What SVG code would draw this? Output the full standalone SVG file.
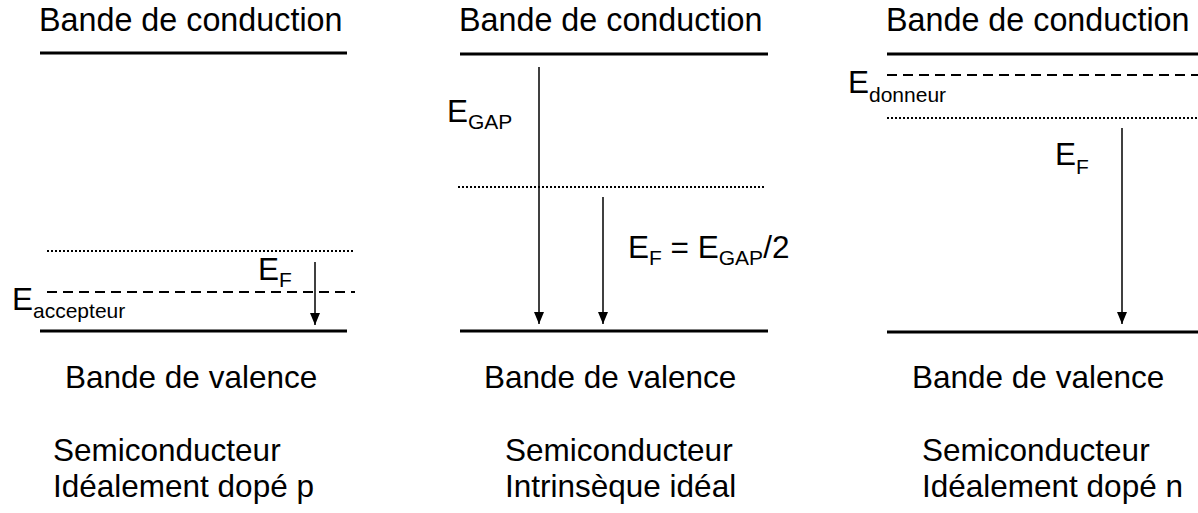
<svg xmlns="http://www.w3.org/2000/svg" width="1198" height="513" viewBox="0 0 1198 513">
<defs>
<style>
text{font-family:"Liberation Sans",Arial,sans-serif;font-size:31.5px;fill:#000}
.cb{font-size:32.3px}
.sub{font-size:21px}
.band{stroke:#000;stroke-width:3;fill:none}
.dot{stroke:#000;stroke-width:2;stroke-dasharray:2,2;fill:none}
.dash{stroke:#000;stroke-width:2;stroke-dasharray:10,6;fill:none}
.arr{stroke:#000;stroke-width:1.5;fill:none;marker-end:url(#ah)}
</style>
<marker id="ah" viewBox="0 -5 12 10" markerWidth="12" markerHeight="10" refX="12" refY="0" orient="auto" markerUnits="userSpaceOnUse">
<path d="M0,-5 L12,0 L0,5 z" fill="#000"/>
</marker>
</defs>
<rect width="1198" height="513" fill="#fff"/>
<g id="panel-p">
<text class="cb" x="39" y="31">Bande de conduction</text>
<line class="band" x1="40" y1="53" x2="347" y2="53"/>
<line class="dot" x1="47" y1="251" x2="354" y2="251"/>
<line class="dash" x1="47" y1="292" x2="355" y2="292"/>
<line class="band" x1="40" y1="331" x2="347" y2="331"/>
<text x="12" y="310">E<tspan class="sub" dy="8">accepteur</tspan></text>
<text x="258" y="280">E<tspan class="sub" dy="7">F</tspan></text>
<text x="65" y="388">Bande de valence</text>
<text x="53" y="461">Semiconducteur</text>
<text x="53" y="497">Idéalement dopé p</text>
</g>
<g id="panel-i">
<text class="cb" x="459" y="31">Bande de conduction</text>
<line class="band" x1="460" y1="54" x2="768" y2="54"/>
<line class="dot" x1="458" y1="187" x2="766" y2="187"/>
<line class="band" x1="460" y1="331" x2="768" y2="331"/>
<text x="447" y="122">E<tspan class="sub" dy="7">GAP</tspan></text>
<text x="628" y="258">E<tspan class="sub" dy="7">F</tspan><tspan dy="-7"> = E</tspan><tspan class="sub" dy="7">GAP</tspan><tspan dy="-7">/2</tspan></text>
<text x="484" y="388">Bande de valence</text>
<text x="505" y="461">Semiconducteur</text>
<text x="505" y="497">Intrinsèque idéal</text>
</g>
<g id="panel-n">
<text class="cb" x="886" y="31">Bande de conduction</text>
<line class="band" x1="887" y1="54" x2="1198" y2="54"/>
<line class="dash" x1="887" y1="75" x2="1198" y2="75"/>
<line class="dot" x1="887" y1="118" x2="1198" y2="118"/>
<line class="band" x1="887" y1="332" x2="1198" y2="332"/>
<text x="848" y="93">E<tspan class="sub" dy="9">donneur</tspan></text>
<text x="1055" y="165">E<tspan class="sub" dy="9">F</tspan></text>
<text x="912" y="388">Bande de valence</text>
<text x="922" y="461">Semiconducteur</text>
<text x="922" y="497">Idéalement dopé n</text>
</g>
<g id="connectors">
<line class="arr" x1="315" y1="262" x2="315" y2="325"/>
<line class="arr" x1="539" y1="67" x2="539" y2="324"/>
<line class="arr" x1="603" y1="197" x2="603" y2="324"/>
<line class="arr" x1="1122" y1="128" x2="1122" y2="324"/>
</g>
</svg>
